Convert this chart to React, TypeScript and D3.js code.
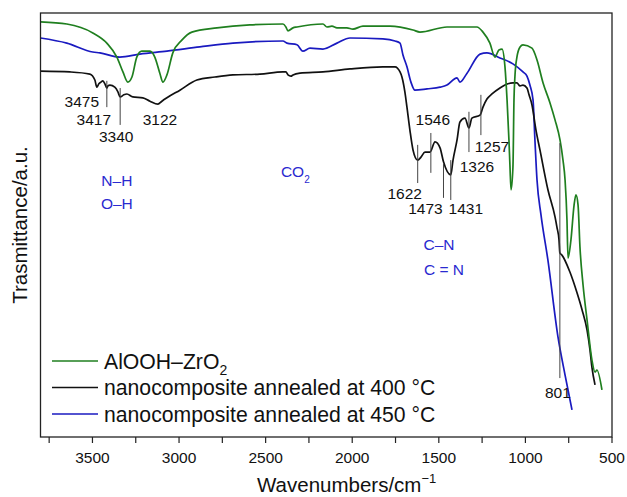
import * as d3 from 'd3';

const WIDTH = 627;
const HEIGHT = 497;
const margin = { top: 13, right: 15, bottom: 60, left: 40.5 };

// [wavenumber cm-1, transmittance a.u.]
const aloohZrO2: [number, number][] = [
  [3800, 97.9], [3648, 97.4], [3498, 95.3], [3417, 92.9], [3359, 89.6], [3324, 86.1], [3296, 83.7],
  [3272, 84.9], [3244, 89.6], [3215, 91.0], [3168, 91.0], [3140, 89.6], [3111, 85.8], [3093, 83.7],
  [3070, 85.4], [3036, 90.6], [2984, 93.6], [2926, 95.5], [2781, 96.5], [2591, 97.2], [2400, 97.4],
  [2383, 96.7], [2371, 95.8], [2342, 96.5], [2319, 96.7], [2169, 97.4], [2146, 96.7], [2117, 96.9],
  [2088, 96.5], [2031, 96.5], [1996, 96.2], [1938, 96.9], [1782, 96.9], [1649, 96.0], [1609, 95.5],
  [1453, 96.7], [1280, 96.7], [1245, 95.5], [1205, 92.9], [1176, 89.6], [1153, 91.3], [1135, 91.5],
  [1118, 87.3], [1106, 79.5], [1095, 70.0], [1089, 63.7], [1083, 58.3], [1072, 63.7], [1066, 79.5],
  [1060, 85.4], [1049, 89.6], [1031, 92.0], [1014, 92.5], [962, 91.7], [933, 88.9], [898, 83.5],
  [858, 78.8], [829, 74.8], [800, 70.0], [783, 65.3], [771, 60.6], [760, 51.2], [754, 42.2],
  [737, 46.5], [719, 54.7], [708, 57.1], [696, 54.7], [685, 44.8], [667, 35.8], [644, 27.6],
  [616, 18.2], [598, 15.3], [587, 15.8], [558, 11.1],
];

const annealed400: [number, number][] = [
  [3800, 86.3], [3630, 86.1], [3515, 85.6], [3486, 84.2], [3475, 82.5], [3463, 83.3], [3451, 83.7],
  [3440, 84.0], [3428, 83.3], [3417, 82.3], [3411, 82.8], [3399, 83.0], [3371, 82.5], [3353, 81.4],
  [3340, 80.2], [3319, 80.7], [3301, 80.9], [3267, 80.2], [3209, 80.0], [3168, 79.2], [3122, 78.5],
  [3099, 79.2], [3070, 80.0], [2995, 81.8], [2897, 84.2], [2793, 84.9], [2689, 85.4], [2533, 85.6],
  [2400, 86.1], [2383, 86.1], [2371, 85.4], [2354, 85.1], [2342, 85.4], [2302, 85.8], [2169, 86.1],
  [2013, 86.8], [1823, 87.3], [1753, 87.3], [1724, 86.1], [1713, 84.9], [1696, 81.4], [1684, 77.8],
  [1667, 72.4], [1649, 67.7], [1622, 65.3], [1603, 66.0], [1580, 67.2], [1551, 67.2], [1522, 69.6],
  [1493, 68.2], [1473, 64.9], [1431, 61.8], [1418, 65.3], [1395, 70.0], [1378, 74.3], [1349, 75.2],
  [1326, 72.9], [1309, 75.2], [1262, 75.9], [1245, 77.8], [1222, 79.7], [1193, 80.9], [1147, 82.3],
  [1118, 83.0], [1101, 83.3], [1072, 83.5], [1049, 83.5], [1031, 82.8], [1014, 83.0], [991, 82.3],
  [979, 80.7], [962, 78.3], [939, 72.4], [916, 67.7], [870, 58.3], [829, 51.9], [818, 49.5],
  [806, 46.5], [801, 43.4], [789, 42.9], [743, 38.9], [702, 34.0], [673, 30.0], [644, 25.2],
  [627, 20.5], [616, 16.5], [598, 12.3],
];

const annealed450: [number, number][] = [
  [3800, 94.1], [3648, 92.9], [3498, 90.8], [3457, 90.6], [3342, 89.6], [3226, 90.3], [3070, 91.0],
  [2880, 92.0], [2689, 92.9], [2400, 93.4], [2377, 92.9], [2319, 92.5], [2285, 91.0], [2244, 91.7],
  [2169, 91.5], [2088, 92.9], [2013, 94.1], [1823, 93.9], [1753, 93.4], [1724, 92.9], [1707, 90.1],
  [1684, 87.3], [1661, 83.7], [1638, 81.8], [1568, 82.1], [1493, 82.5], [1453, 83.0], [1395, 84.7],
  [1378, 83.7], [1337, 85.8], [1262, 90.3], [1222, 90.6], [1147, 89.4], [1072, 88.0], [1014, 86.1],
  [991, 85.1], [974, 83.0], [956, 79.5], [945, 70.0], [933, 60.6], [910, 52.4], [870, 41.7],
  [812, 23.6], [771, 14.6], [731, 6.4],
];

const majorTicks = [3500, 3000, 2500, 2000, 1500, 1000, 500];
const minorTicks = [3750, 3250, 2750, 2250, 1750, 1250, 750];

// peak marks: label, wavenumber, marker line top/bottom (a.u.)
const peaks = [
  { label: '3475', wn: 3475, top: null, bottom: null },
  { label: '3417', wn: 3417, top: 84.0, bottom: 77.8 },
  { label: '3340', wn: 3340, top: 82.3, bottom: 73.6 },
  { label: '3122', wn: 3122, top: null, bottom: null },
  { label: '1622', wn: 1622, top: 68.9, bottom: 59.9 },
  { label: '1546', wn: 1546, top: 71.7, bottom: 62.3 },
  { label: '1473', wn: 1473, top: 64.6, bottom: 56.4 },
  { label: '1431', wn: 1431, top: 65.3, bottom: 55.9 },
  { label: '1326', wn: 1326, top: 76.7, bottom: 67.2 },
  { label: '1257', wn: 1257, top: 80.7, bottom: 71.2 },
  { label: '801', wn: 801, top: 69.3, bottom: 13.9 },
];
// label placement: x offset (px) from the mark, y in a.u.
const peakLabelPos: Record<string, [number, number]> = {
  '3475': [-15, 79.2],
  '3417': [-13, 75.0],
  '3340': [-4, 71.0],
  '3122': [2, 75.0],
  '1622': [-13, 57.5],
  '1546': [2, 75.0],
  '1473': [-18, 54.0],
  '1431': [15, 54.0],
  '1326': [8, 63.7],
  '1257': [11, 68.6],
  '801': [-2, 10.4],
};

const bandLabels = [
  { text: 'N–H', wn: 3359, t: 60.6 },
  { text: 'O–H', wn: 3359, t: 55.0 },
  { text: 'C–N', wn: 1499, t: 45.5 },
  { text: 'C = N', wn: 1470, t: 39.6 },
];

const series = [
  { name: 'AlOOH–ZrO', sub: '2', data: aloohZrO2, color: '#1f7f1f' },
  { name: 'nanocomposite annealed at 400 °C', sub: '', data: annealed400, color: '#111111' },
  { name: 'nanocomposite annealed at 450 °C', sub: '', data: annealed450, color: '#1a1ac0' },
];

const FONT = '"Liberation Sans", Arial, Helvetica, sans-serif';
const BAND_BLUE = '#2a2ad0';

export default function App() {
  const x = d3.scaleLinear().domain([3800, 500]).range([margin.left, WIDTH - margin.right]);
  const y = d3.scaleLinear().domain([0, 100]).range([HEIGHT - margin.bottom, margin.top]);
  const line = d3
    .line<[number, number]>()
    .x((d) => x(d[0]))
    .y((d) => y(d[1]))
    .curve(d3.curveMonotoneX);

  const bottom = HEIGHT - margin.bottom;
  const plotW = WIDTH - margin.right - margin.left;
  const plotH = bottom - margin.top;

  return (
    <svg
      width={WIDTH}
      height={HEIGHT}
      style={{ position: 'absolute', left: 0, top: 0, background: '#fff' }}
      fontFamily={FONT}
    >
      {/* series */}
      {[...series].reverse().map((s) => (
        <path key={s.name} d={line(s.data) || ''} fill="none" stroke={s.color} strokeWidth={1.7} />
      ))}

      {/* peak marks */}
      {peaks.map((p) => {
        const px = x(p.wn);
        const [dx, ty] = peakLabelPos[p.label];
        return (
          <g key={p.label}>
            {p.top !== null && (
              <line x1={px} x2={px} y1={y(p.top)} y2={y(p.bottom as number)} stroke="#444" strokeWidth={1} />
            )}
            <text x={px + dx} y={y(ty)} dy="0.36em" textAnchor="middle" fontSize={15.5} fill="#111">
              {p.label}
            </text>
          </g>
        );
      })}

      {/* band assignments */}
      {bandLabels.map((b) => (
        <text key={b.text} x={x(b.wn)} y={y(b.t)} dy="0.36em" textAnchor="middle" fontSize={15.5} fill={BAND_BLUE}>
          {b.text}
        </text>
      ))}
      <text x={x(2331) - 14} y={y(62.7)} dy="0.36em" fontSize={15.5} fill={BAND_BLUE}>
        CO
        <tspan fontSize={10} dy="6">
          2
        </tspan>
      </text>

      {/* frame */}
      <rect x={margin.left} y={margin.top} width={plotW} height={plotH} fill="none" stroke="#222" strokeWidth={1.3} />

      {/* x axis ticks */}
      {[...majorTicks, ...minorTicks].map((t) => (
        <line key={t} x1={x(t)} x2={x(t)} y1={bottom} y2={bottom + 6} stroke="#222" strokeWidth={1.2} />
      ))}
      {majorTicks.map((t) => (
        <text key={t} x={x(t)} y={bottom + 20} dy="0.36em" textAnchor="middle" fontSize={15.5} fill="#111">
          {t}
        </text>
      ))}
      <text x={257} y={492} fontSize={20.5} fill="#111">
        Wavenumbers/cm
        <tspan fontSize={13} dy="-9">
          −1
        </tspan>
      </text>
      <text
        transform={`translate(27,${(margin.top + bottom) / 2}) rotate(-90)`}
        textAnchor="middle"
        fontSize={20.5}
        fill="#111"
      >
        Trasmittance/a.u.
      </text>

      {/* legend */}
      {series.map((s, i) => {
        const ly = 361 + i * 26.5;
        return (
          <g key={s.name}>
            <line x1={52} x2={98} y1={ly} y2={ly} stroke={s.color} strokeWidth={1.7} />
            <text x={104} y={ly} dy="0.36em" fontSize={21.2} fill="#111">
              {s.name}
              {s.sub && (
                <tspan fontSize={14} dy="6">
                  {s.sub}
                </tspan>
              )}
            </text>
          </g>
        );
      })}
    </svg>
  );
}
